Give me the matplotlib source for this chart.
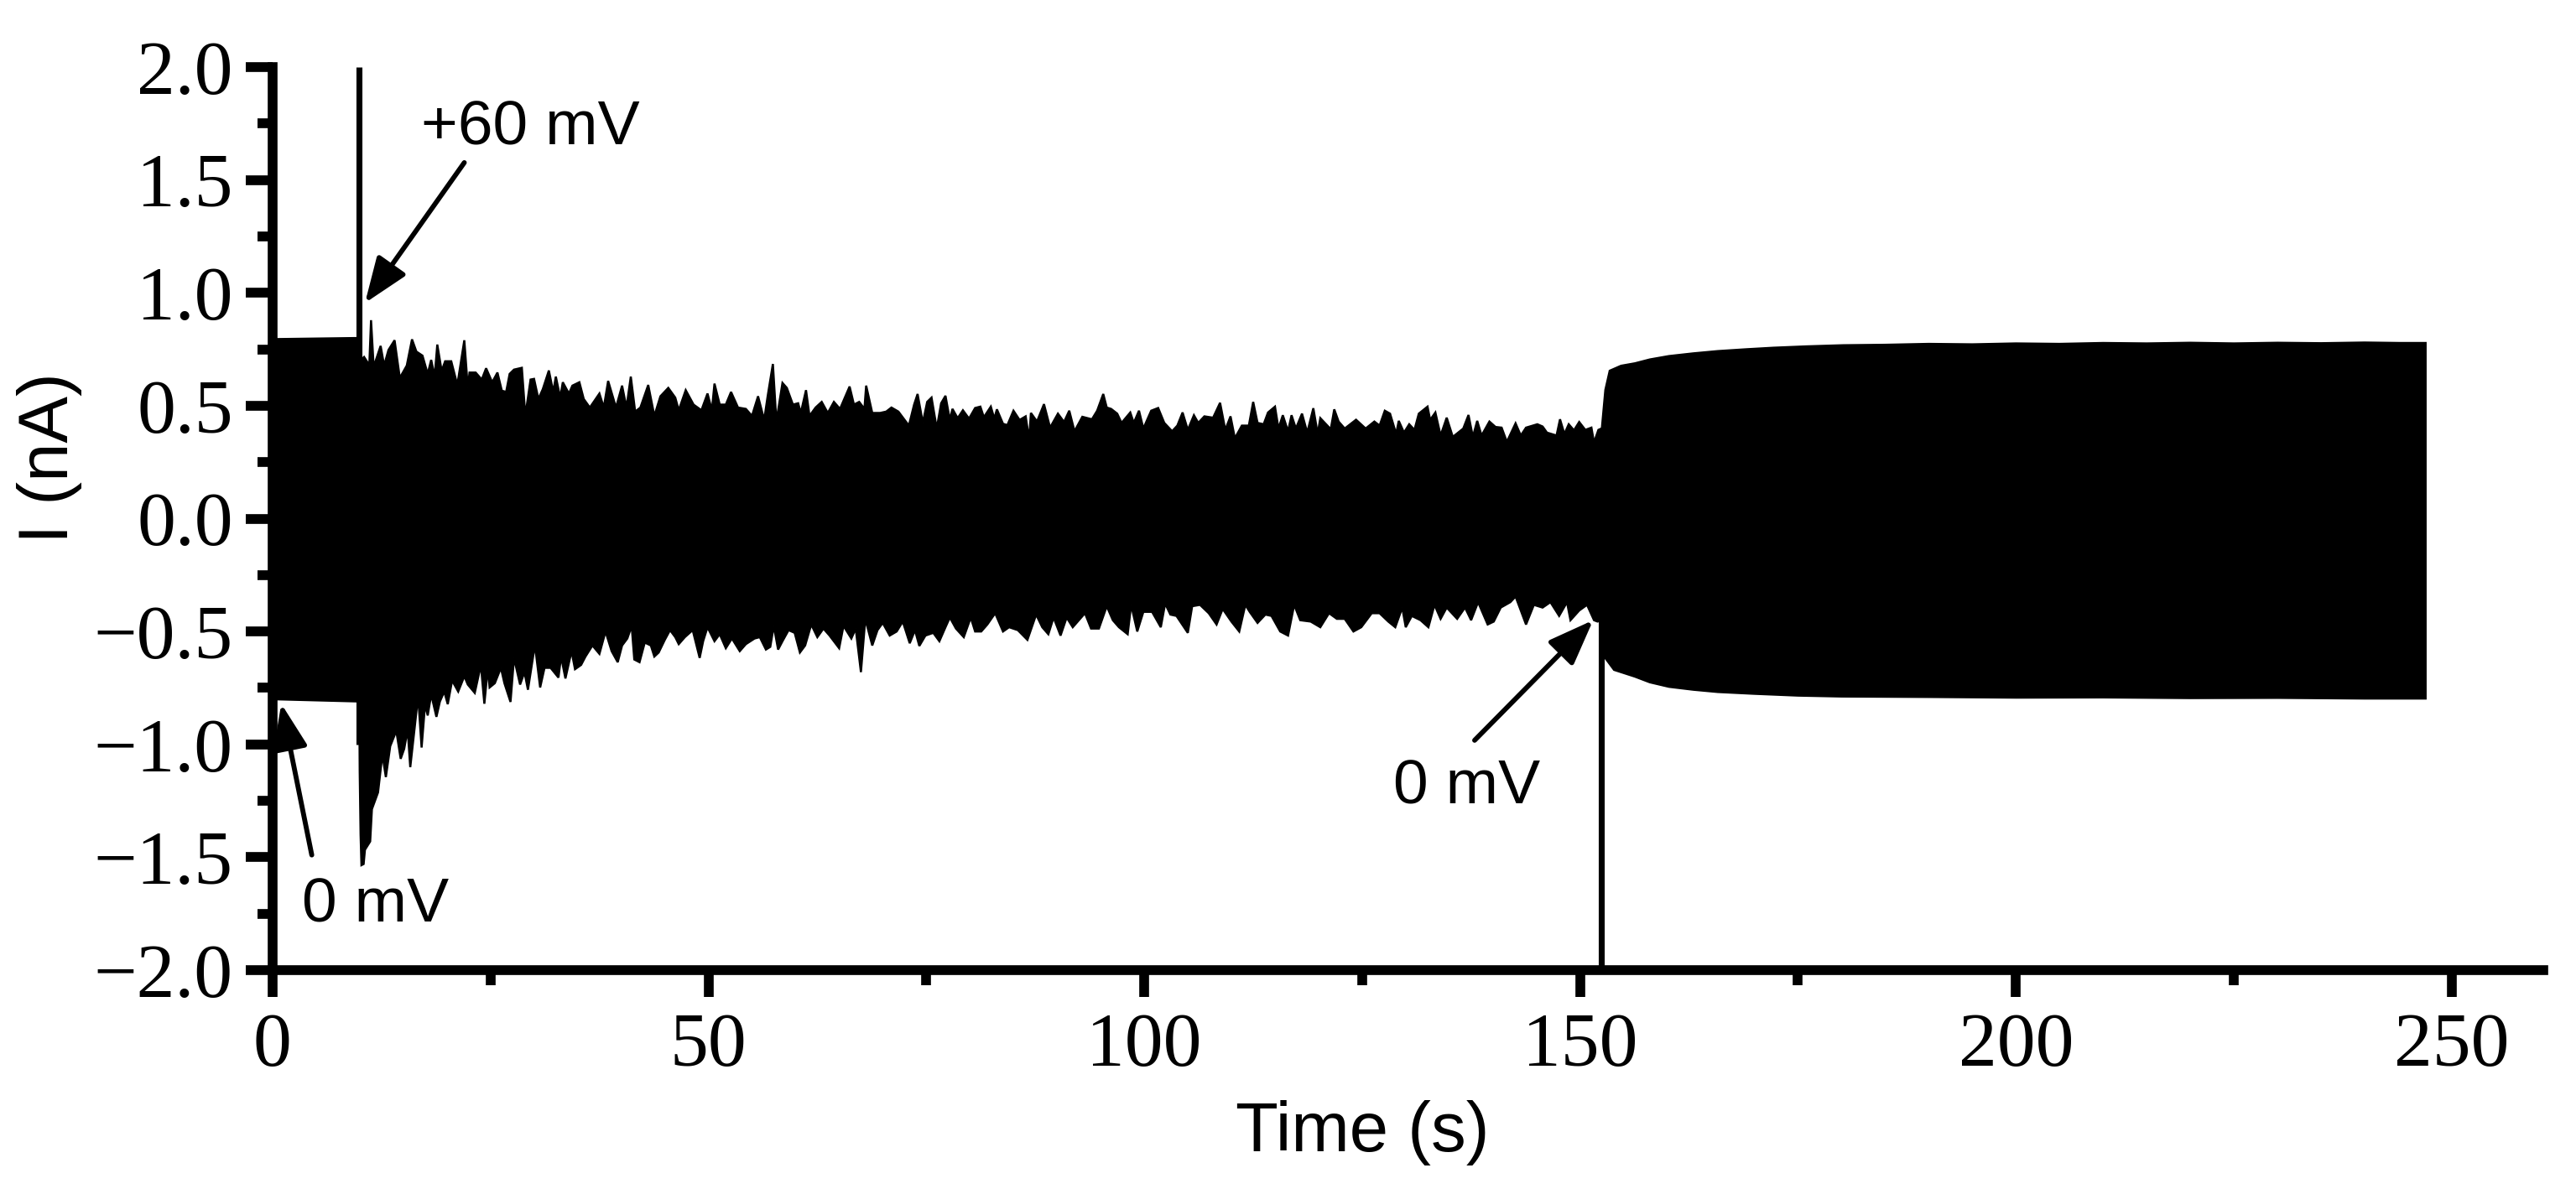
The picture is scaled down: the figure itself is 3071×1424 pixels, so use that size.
import numpy as np
import matplotlib.pyplot as plt
from matplotlib.ticker import MultipleLocator, FuncFormatter

# upper edge of the current trace, (time s, current nA)
upper = np.array([
    (0.0, 0.795), (9.85, 0.80), (10.1, 0.70), (10.5, 0.716), (11.1, 0.68), (11.3, 0.879),
    (11.6, 0.672), (12.4, 0.765), (12.8, 0.678), (13.3, 0.747), (14.0, 0.790), (14.6, 0.623),
    (15.4, 0.678), (16.0, 0.794), (16.5, 0.740), (17.2, 0.722), (17.8, 0.641), (18.2, 0.703),
    (18.6, 0.629), (18.9, 0.771), (19.4, 0.654), (19.8, 0.697), (20.5, 0.697), (21.2, 0.592),
    (22.0, 0.790), (22.4, 0.579), (22.6, 0.647), (23.3, 0.647), (24.0, 0.616), (24.5, 0.666),
    (25.2, 0.604), (25.8, 0.647), (26.3, 0.567), (26.8, 0.561), (27.2, 0.641), (27.7, 0.660),
    (28.6, 0.668), (29.0, 0.455), (29.6, 0.616), (30.0, 0.619), (30.5, 0.530), (31.0, 0.573),
    (31.7, 0.656), (32.2, 0.561), (32.5, 0.629), (33.0, 0.536), (33.3, 0.604), (34.0, 0.554),
    (34.4, 0.589), (35.2, 0.604), (35.7, 0.530), (36.4, 0.492), (37.5, 0.554), (38.0, 0.492),
    (38.5, 0.610), (39.4, 0.492), (40.1, 0.589), (40.6, 0.492), (41.1, 0.629), (41.6, 0.474),
    (42.2, 0.492), (43.1, 0.592), (43.8, 0.455), (44.5, 0.542), (45.4, 0.579), (46.2, 0.536),
    (46.6, 0.480), (47.4, 0.569), (48.3, 0.505), (49.2, 0.480), (49.9, 0.554), (50.4, 0.480),
    (50.7, 0.598), (51.3, 0.505), (52.0, 0.505), (52.6, 0.561), (53.4, 0.492), (54.3, 0.486),
    (55.0, 0.455), (55.7, 0.542), (56.4, 0.437), (56.8, 0.542), (57.4, 0.685), (57.8, 0.430),
    (58.5, 0.601), (59.0, 0.579), (59.7, 0.505), (60.3, 0.511), (60.6, 0.468), (61.2, 0.569),
    (61.6, 0.455), (62.3, 0.492), (63.0, 0.517), (63.7, 0.468), (64.4, 0.517), (65.1, 0.486),
    (66.2, 0.585), (66.7, 0.505), (67.3, 0.517), (67.9, 0.486), (68.1, 0.589), (68.8, 0.468),
    (69.7, 0.468), (70.4, 0.474), (71.0, 0.492), (71.8, 0.474), (73.0, 0.412), (73.6, 0.505),
    (74.0, 0.552), (74.6, 0.424), (75.1, 0.517), (75.6, 0.536), (76.2, 0.399), (76.7, 0.511),
    (77.2, 0.544), (77.7, 0.437), (78.0, 0.486), (78.6, 0.445), (79.2, 0.480), (79.9, 0.443),
    (80.6, 0.490), (81.2, 0.496), (81.6, 0.449), (82.4, 0.496), (82.8, 0.443), (83.1, 0.484),
    (83.8, 0.420), (84.3, 0.414), (85.0, 0.478), (85.7, 0.437), (86.4, 0.453), (86.8, 0.350),
    (87.0, 0.468), (87.7, 0.430), (88.5, 0.507), (89.2, 0.403), (90.1, 0.465), (90.8, 0.428),
    (91.4, 0.478), (92.0, 0.387), (92.9, 0.451), (94.0, 0.440), (94.6, 0.478), (95.3, 0.552),
    (95.7, 0.492), (96.2, 0.486), (96.9, 0.465), (97.4, 0.424), (98.4, 0.470), (98.8, 0.424),
    (99.4, 0.478), (99.9, 0.399), (100.8, 0.478), (101.6, 0.490), (102.3, 0.424), (103.2, 0.387),
    (103.8, 0.412), (104.4, 0.470), (105.0, 0.393), (105.7, 0.458), (106.2, 0.424), (106.9, 0.453),
    (107.9, 0.447), (108.7, 0.513), (109.3, 0.393), (109.9, 0.453), (110.4, 0.356), (111.2, 0.412),
    (112.0, 0.412), (112.5, 0.517), (113.0, 0.424), (113.7, 0.418), (114.2, 0.470), (115.0, 0.496),
    (115.4, 0.399), (115.9, 0.458), (116.5, 0.387), (116.9, 0.458), (117.4, 0.399), (118.1, 0.465),
    (118.7, 0.381), (119.4, 0.489), (119.9, 0.375), (120.2, 0.445), (121.4, 0.396), (121.8, 0.484),
    (122.3, 0.430), (123.0, 0.399), (124.3, 0.438), (125.4, 0.399), (126.4, 0.430), (127.0, 0.412),
    (127.6, 0.478), (128.2, 0.465), (128.9, 0.375), (129.2, 0.433), (129.8, 0.381), (130.4, 0.418),
    (131.0, 0.393), (131.5, 0.465), (132.5, 0.496), (132.8, 0.437), (133.4, 0.470), (134.0, 0.368),
    (134.7, 0.447), (135.4, 0.362), (136.6, 0.399), (137.2, 0.459), (137.7, 0.362), (138.2, 0.433),
    (138.7, 0.368), (139.6, 0.430), (140.3, 0.406), (141.0, 0.403), (141.6, 0.340), (142.6, 0.422),
    (143.2, 0.368), (143.8, 0.403), (145.1, 0.418), (145.7, 0.408), (146.2, 0.381), (147.3, 0.368),
    (147.7, 0.440), (148.2, 0.375), (148.7, 0.418), (149.3, 0.391), (149.9, 0.428), (150.6, 0.393),
    (151.3, 0.403), (151.6, 0.337), (152.1, 0.393), (152.5, 0.400), (152.9, 0.570), (153.4, 0.655),
    (154.7, 0.677), (156.3, 0.688), (158.0, 0.705), (160.2, 0.720), (163.0, 0.732), (165.8, 0.742),
    (169.0, 0.750), (172.2, 0.757), (176.0, 0.763), (180.2, 0.768), (185.0, 0.770), (190.0, 0.774),
    (195.0, 0.772), (200.0, 0.776), (205.0, 0.774), (210.0, 0.778), (215.0, 0.776), (220.0, 0.779),
    (225.0, 0.776), (230.0, 0.779), (235.0, 0.777), (240.0, 0.780), (244.0, 0.778), (247.0, 0.778),
])

# lower edge of the current trace, (time s, current nA)
lower = np.array([
    (0.0, -0.80), (9.95, -0.81), (10.0, -1.12), (10.1, -1.40), (10.2, -1.535), (10.45, -1.53),
    (10.6, -1.467), (11.2, -1.43), (11.4, -1.287), (12.1, -1.213), (12.6, -1.045), (13.0, -1.145),
    (13.5, -1.008), (14.2, -0.94), (14.7, -1.064), (15.1, -1.02), (15.5, -0.934), (15.8, -1.101),
    (16.3, -0.927), (16.7, -0.785), (17.1, -1.014), (17.5, -0.822), (17.8, -0.872), (18.2, -0.779),
    (18.8, -0.878), (19.2, -0.81), (19.7, -0.766), (20.1, -0.822), (20.6, -0.717), (21.3, -0.766),
    (22.0, -0.698), (22.4, -0.735), (23.2, -0.772), (23.9, -0.648), (24.3, -0.82), (24.7, -0.661),
    (24.9, -0.748), (25.5, -0.729), (26.2, -0.661), (26.6, -0.729), (27.3, -0.812), (27.7, -0.617),
    (28.4, -0.735), (28.9, -0.68), (29.3, -0.758), (30.1, -0.559), (30.7, -0.748), (31.2, -0.661),
    (31.9, -0.661), (32.8, -0.704), (33.1, -0.611), (33.6, -0.708), (34.3, -0.587), (34.7, -0.667),
    (35.4, -0.648), (35.9, -0.611), (36.7, -0.562), (37.5, -0.599), (38.2, -0.50), (38.9, -0.587),
    (39.6, -0.636), (40.1, -0.562), (40.7, -0.531), (41.2, -0.475), (41.5, -0.624), (42.1, -0.636),
    (42.7, -0.549), (43.4, -0.562), (43.8, -0.611), (44.3, -0.593), (45.0, -0.537), (45.6, -0.494),
    (46.2, -0.525), (46.6, -0.556), (47.3, -0.525), (48.2, -0.494), (49.0, -0.617), (49.4, -0.543),
    (49.9, -0.481), (50.7, -0.543), (51.3, -0.512), (52.0, -0.574), (52.7, -0.531), (53.6, -0.587),
    (54.3, -0.556), (55.3, -0.531), (55.9, -0.525), (56.6, -0.580), (57.1, -0.568), (57.5, -0.475),
    (58.0, -0.580), (58.5, -0.543), (59.2, -0.494), (59.9, -0.506), (60.5, -0.593), (61.1, -0.562),
    (61.8, -0.469), (62.5, -0.525), (63.2, -0.487), (63.9, -0.518), (65.0, -0.574), (65.5, -0.475),
    (66.4, -0.531), (66.9, -0.487), (67.5, -0.680), (68.0, -0.444), (68.8, -0.562), (69.4, -0.494),
    (70.0, -0.462), (70.8, -0.518), (71.6, -0.500), (72.3, -0.456), (73.1, -0.552), (73.7, -0.494),
    (74.2, -0.564), (74.9, -0.518), (75.8, -0.506), (76.5, -0.543), (77.2, -0.481), (77.7, -0.438),
    (78.4, -0.487), (79.3, -0.525), (80.1, -0.438), (80.6, -0.500), (81.3, -0.500), (82.0, -0.469),
    (82.9, -0.419), (83.8, -0.500), (84.5, -0.481), (85.5, -0.494), (86.6, -0.537), (87.6, -0.425),
    (88.3, -0.481), (89.0, -0.512), (89.6, -0.438), (90.4, -0.518), (91.1, -0.438), (91.8, -0.481),
    (93.2, -0.419), (93.9, -0.487), (94.8, -0.487), (95.7, -0.388), (96.4, -0.450), (97.1, -0.481),
    (98.1, -0.512), (98.5, -0.382), (99.2, -0.500), (99.9, -0.413), (100.9, -0.413), (101.9, -0.481),
    (102.4, -0.376), (103.0, -0.425), (103.7, -0.431), (105.0, -0.506), (105.5, -0.388), (106.4, -0.382),
    (107.4, -0.419), (108.3, -0.469), (109.0, -0.400), (110.0, -0.456), (110.9, -0.500), (111.6, -0.382),
    (112.1, -0.413), (113.0, -0.462), (113.9, -0.425), (114.6, -0.431), (115.6, -0.500), (116.5, -0.518),
    (117.2, -0.382), (117.9, -0.450), (119.1, -0.456), (120.2, -0.481), (121.2, -0.419), (122.1, -0.444),
    (123.0, -0.444), (124.0, -0.500), (124.9, -0.481), (126.1, -0.419), (127.0, -0.419), (128.0, -0.456),
    (128.8, -0.481), (129.6, -0.394), (130.0, -0.481), (130.7, -0.431), (131.7, -0.450), (132.6, -0.481),
    (133.3, -0.382), (134.0, -0.444), (134.7, -0.394), (135.9, -0.444), (136.8, -0.394), (137.5, -0.450),
    (138.3, -0.370), (139.4, -0.469), (140.1, -0.456), (140.9, -0.394), (142.0, -0.370), (142.6, -0.345),
    (143.8, -0.469), (144.7, -0.382), (145.7, -0.394), (146.6, -0.370), (147.6, -0.431), (148.5, -0.370),
    (148.9, -0.450), (149.9, -0.407), (150.8, -0.382), (151.6, -0.450), (152.0, -0.456), (152.5, -0.450),
    (152.9, -0.618), (153.9, -0.670), (156.3, -0.700), (158.0, -0.725), (160.2, -0.745), (163.0, -0.758),
    (165.8, -0.768), (170.0, -0.776), (175.0, -0.784), (180.0, -0.788), (190.0, -0.790), (200.0, -0.793),
    (210.0, -0.792), (220.0, -0.795), (230.0, -0.794), (240.0, -0.797), (247.0, -0.797),
])

# capacitive transients when the holding potential is switched
step_t = [9.9, 152.45]
step_lo = [-1.0, -2.0]
step_hi = [2.0, 0.0]

# annotations: label, text position, arrow tail, arrow tip
notes = [
    ('+60 mV', (29.6, 1.73), (22.0, 1.577), (10.6, 0.955)),
    ('0 mV', (11.8, -1.715), (4.5, -1.49), (1.0, -0.82)),
    ('0 mV', (137.0, -1.19), (137.9, -0.982), (151.5, -0.45)),
]

fig = plt.figure(figsize=(3071 / 300, 1424 / 300), dpi=300)
ax = fig.add_axes([0.1058, 0.1875, 0.8815, 0.7563])

xs = np.r_[upper[:, 0], lower[::-1, 0]]
ys = np.r_[upper[:, 1], lower[::-1, 1]]
ax.fill(xs, ys, color='black', lw=0.6, zorder=2)
ax.vlines(step_t, step_lo, step_hi, color='black', lw=1.7, zorder=3)

for label, txt, tail, tip in notes:
    ax.text(txt[0], txt[1], label, ha='center', va='center',
            fontsize=18, family='Liberation Sans')
    ax.annotate('', xy=tip, xytext=tail,
                arrowprops=dict(arrowstyle='-|>,head_length=1.1,head_width=0.42',
                                color='black', lw=1.4, shrinkA=0, shrinkB=0))

ax.set_xlim(0, 260.5)
ax.set_ylim(-2.0, 2.0)
ax.spines['top'].set_visible(False)
ax.spines['right'].set_visible(False)
for s in ['left', 'bottom']:
    ax.spines[s].set_linewidth(2.8)

ax.xaxis.set_major_locator(MultipleLocator(50))
ax.xaxis.set_minor_locator(MultipleLocator(25))
ax.yaxis.set_major_locator(MultipleLocator(0.5))
ax.yaxis.set_minor_locator(MultipleLocator(0.25))
ax.yaxis.set_major_formatter(FuncFormatter(lambda v, p: f'{v:.1f}'.replace('-', '\u2212')))
ax.tick_params(which='major', direction='out', length=7.7, width=2.8, labelsize=22, pad=3.6)
ax.tick_params(which='minor', direction='out', length=4.3, width=2.8)
ax.tick_params(axis='x', which='major', pad=4.5)
for lab in ax.get_xticklabels() + ax.get_yticklabels():
    lab.set_family('Liberation Serif')

ax.set_xlabel('Time (s)', fontsize=20, family='Liberation Sans')
ax.set_ylabel('I (nA)', fontsize=20, family='Liberation Sans')
ax.xaxis.set_label_coords(0.480, -0.144)
ax.yaxis.set_label_coords(-0.084, 0.567)

fig.savefig('out.png', dpi=300)
